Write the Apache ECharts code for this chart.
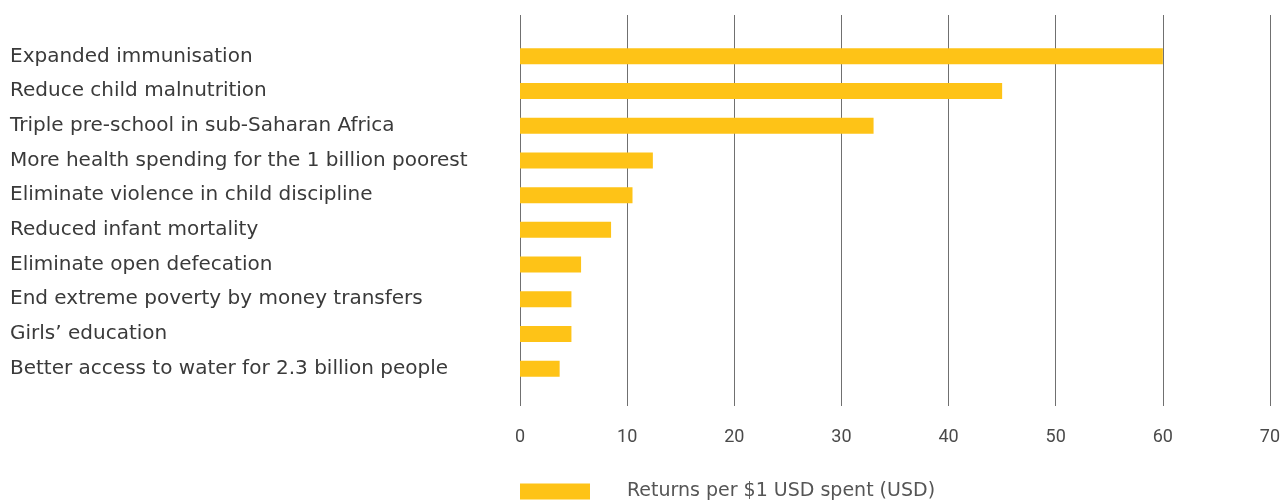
<!DOCTYPE html>
<html><head><meta charset="utf-8">
<script src="https://cdn.jsdelivr.net/npm/echarts@6/dist/echarts.min.js"></script>
<style>html,body{margin:0;padding:0;background:#fff}#c{width:1283px;height:501px}</style>
</head><body><div id="c"></div>
<script>
const categories = [
  "Expanded immunisation",
  "Reduce child malnutrition",
  "Triple pre-school in sub-Saharan Africa",
  "More health spending for the 1 billion poorest",
  "Eliminate violence in child discipline",
  "Reduced infant mortality",
  "Eliminate open defecation",
  "End extreme poverty by money transfers",
  "Girls\u2019 education",
  "Better access to water for 2.3 billion people"
];
const values = [60, 45, 33, 12.4, 10.5, 8.5, 5.7, 4.8, 4.8, 3.7];
const seriesName = "Returns per $1 USD spent (USD)";
const xMin = 0, xMax = 70, xInterval = 10;

const chart = echarts.init(document.getElementById('c'));
chart.setOption({
  animation: false,
  grid: [
    {left: 520, right: 13, top: 15, height: 391},
    {left: 520, right: 13, top: 39, height: 347}
  ],
  xAxis: [
    {gridIndex: 0, type: 'value', min: xMin, max: xMax, interval: xInterval,
     axisLine: {show: false}, axisTick: {show: false},
     splitLine: {show: true, lineStyle: {color: '#707070', width: 1}},
     axisLabel: {margin: 22, color: '#4a4a4a', fontSize: 18, fontFamily: 'Roboto'}},
    {gridIndex: 1, type: 'value', min: xMin, max: xMax, show: false}
  ],
  yAxis: [
    {gridIndex: 0, type: 'value', show: false},
    {gridIndex: 1, type: 'category', inverse: true, data: categories,
     axisLine: {show: false}, axisTick: {show: false},
     axisLabel: {align: 'left', margin: 510, color: '#3a3a3a', fontSize: 20, fontFamily: 'DejaVu Sans'}}
  ],
  legend: {
    left: 515, top: 477, itemWidth: 70, itemHeight: 16,
    icon: 'rect',
    data: [seriesName],
    textStyle: {color: '#555', fontSize: 19, fontFamily: 'DejaVu Sans', padding: [0, 0, 0, 32]}
  },
  series: [{
    name: seriesName, type: 'bar', xAxisIndex: 1, yAxisIndex: 1,
    data: values, barWidth: 16, itemStyle: {color: '#FEC317'}
  }]
});
</script></body></html>
